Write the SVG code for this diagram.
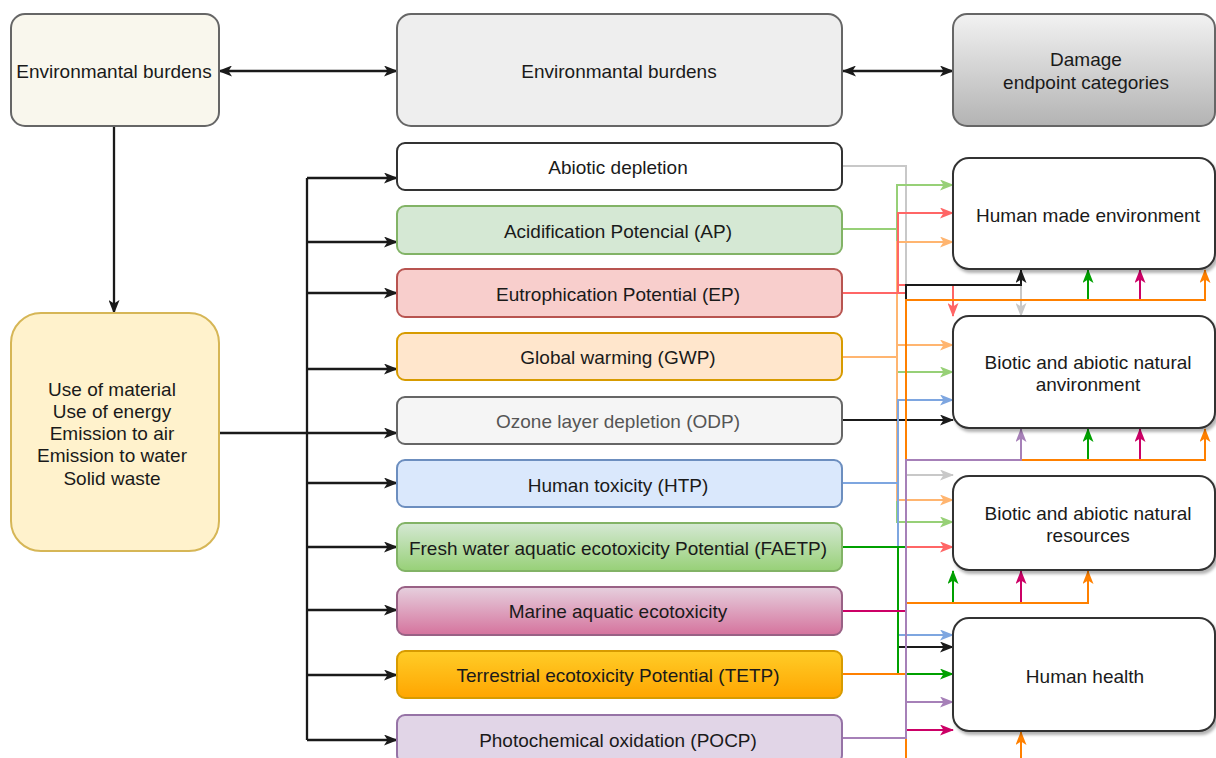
<svg xmlns="http://www.w3.org/2000/svg" width="1216" height="758" viewBox="0 0 1216 758">
<style>
text{font-family:"Liberation Sans",Arial,sans-serif;font-size:19px;fill:#1a1a1a;text-anchor:middle;dominant-baseline:central}
.c{fill:none;stroke-width:2}
.k{stroke:#1a1a1a;stroke-width:2.3}
.end{fill:#fff;stroke:#333;stroke-width:2}
</style>
<defs>
<linearGradient id="gF" x1="0" y1="0" x2="0" y2="1"><stop offset="0" stop-color="#d5e8d4"/><stop offset="1" stop-color="#97d077"/></linearGradient>
<linearGradient id="gM" x1="0" y1="0" x2="0" y2="1"><stop offset="0" stop-color="#e6d0de"/><stop offset="1" stop-color="#d5739d"/></linearGradient>
<linearGradient id="gT" x1="0" y1="0" x2="0" y2="1"><stop offset="0" stop-color="#ffcd28"/><stop offset="1" stop-color="#ffa500"/></linearGradient>
<linearGradient id="gD" x1="0" y1="0" x2="0" y2="1"><stop offset="0" stop-color="#f2f2f2"/><stop offset="1" stop-color="#b3b3b3"/></linearGradient>
<filter id="sh" x="-10%" y="-10%" width="130%" height="130%"><feDropShadow dx="2" dy="3" stdDeviation="1.5" flood-color="#000" flood-opacity="0.3"/></filter>
<marker id="m-blk" viewBox="0 0 14 11" refX="13" refY="5.5" markerWidth="14" markerHeight="11" markerUnits="userSpaceOnUse" orient="auto-start-reverse"><path d="M0,0 L14,5.5 L0,11 L3.5,5.5 z" fill="#1a1a1a"/></marker>
<marker id="m-gry" viewBox="0 0 14 11" refX="13" refY="5.5" markerWidth="14" markerHeight="11" markerUnits="userSpaceOnUse" orient="auto"><path d="M0,0 L14,5.5 L0,11 L3.5,5.5 z" fill="#c8c8c8"/></marker>
<marker id="m-lg" viewBox="0 0 14 11" refX="13" refY="5.5" markerWidth="14" markerHeight="11" markerUnits="userSpaceOnUse" orient="auto"><path d="M0,0 L14,5.5 L0,11 L3.5,5.5 z" fill="#97d077"/></marker>
<marker id="m-lo" viewBox="0 0 14 11" refX="13" refY="5.5" markerWidth="14" markerHeight="11" markerUnits="userSpaceOnUse" orient="auto"><path d="M0,0 L14,5.5 L0,11 L3.5,5.5 z" fill="#ffb570"/></marker>
<marker id="m-red" viewBox="0 0 14 11" refX="13" refY="5.5" markerWidth="14" markerHeight="11" markerUnits="userSpaceOnUse" orient="auto"><path d="M0,0 L14,5.5 L0,11 L3.5,5.5 z" fill="#ff6666"/></marker>
<marker id="m-blu" viewBox="0 0 14 11" refX="13" refY="5.5" markerWidth="14" markerHeight="11" markerUnits="userSpaceOnUse" orient="auto"><path d="M0,0 L14,5.5 L0,11 L3.5,5.5 z" fill="#7ea6e0"/></marker>
<marker id="m-grn" viewBox="0 0 14 11" refX="13" refY="5.5" markerWidth="14" markerHeight="11" markerUnits="userSpaceOnUse" orient="auto"><path d="M0,0 L14,5.5 L0,11 L3.5,5.5 z" fill="#00a000"/></marker>
<marker id="m-mag" viewBox="0 0 14 11" refX="13" refY="5.5" markerWidth="14" markerHeight="11" markerUnits="userSpaceOnUse" orient="auto"><path d="M0,0 L14,5.5 L0,11 L3.5,5.5 z" fill="#cc0066"/></marker>
<marker id="m-org" viewBox="0 0 14 11" refX="13" refY="5.5" markerWidth="14" markerHeight="11" markerUnits="userSpaceOnUse" orient="auto"><path d="M0,0 L14,5.5 L0,11 L3.5,5.5 z" fill="#ff8000"/></marker>
<marker id="m-pur" viewBox="0 0 14 11" refX="13" refY="5.5" markerWidth="14" markerHeight="11" markerUnits="userSpaceOnUse" orient="auto"><path d="M0,0 L14,5.5 L0,11 L3.5,5.5 z" fill="#a680b8"/></marker>
</defs>
<rect width="1216" height="758" fill="#fff"/>

<g id="connectors">
<path class="c k" d="M219,71 H397" marker-start="url(#m-blk)" marker-end="url(#m-blk)"/>
<path class="c k" d="M843,71 H953" marker-start="url(#m-blk)" marker-end="url(#m-blk)"/>
<path class="c k" d="M114,127 V313" marker-end="url(#m-blk)"/>
<path class="c k" d="M219,433 H307 M307,178 V740"/>
<path class="c k" d="M307,178 H397" marker-end="url(#m-blk)"/>
<path class="c k" d="M307,242 H397" marker-end="url(#m-blk)"/>
<path class="c k" d="M307,293 H397" marker-end="url(#m-blk)"/>
<path class="c k" d="M307,369 H397" marker-end="url(#m-blk)"/>
<path class="c k" d="M307,433 H397" marker-end="url(#m-blk)"/>
<path class="c k" d="M307,483 H397" marker-end="url(#m-blk)"/>
<path class="c k" d="M307,547 H397" marker-end="url(#m-blk)"/>
<path class="c k" d="M307,610 H397" marker-end="url(#m-blk)"/>
<path class="c k" d="M307,675 H397" marker-end="url(#m-blk)"/>
<path class="c k" d="M307,740 H397" marker-end="url(#m-blk)"/>

<g stroke="#c8c8c8">
<path class="c" d="M842,166 H906 V475 H953" marker-end="url(#m-gry)"/>
<path class="c" d="M906,285 H1021 V316" marker-end="url(#m-gry)"/>
</g>
<g stroke="#97d077">
<path class="c" d="M842,229 H897 V185 H953" marker-end="url(#m-lg)"/>
<path class="c" d="M897,229 V372 H953" marker-end="url(#m-lg)"/>
<path class="c" d="M897,372 V522 H953" marker-end="url(#m-lg)"/>
</g>
<g stroke="#ffb570">
<path class="c" d="M842,357 H897 V242 H953" marker-end="url(#m-lo)"/>
<path class="c" d="M897,357 V345 H953" marker-end="url(#m-lo)"/>
<path class="c" d="M897,357 V500 H953" marker-end="url(#m-lo)"/>
</g>
<g stroke="#ff6666">
<path class="c" d="M842,293 H898 V213 H953" marker-end="url(#m-red)"/>
<path class="c" d="M898,293 V285 H953 V316" marker-end="url(#m-red)"/>
<path class="c" d="M898,293 H906 V547 H953" marker-end="url(#m-red)"/>
</g>
<g stroke="#1a1a1a">
<path class="c" d="M842,420 H953" marker-end="url(#m-blk)"/>
<path class="c" d="M906,420 V285 H1021 V270" marker-end="url(#m-blk)"/>
<path class="c" d="M898,420 V647 H953" marker-end="url(#m-blk)"/>
</g>
<g stroke="#7ea6e0">
<path class="c" d="M842,483 H898 V400 H953" marker-end="url(#m-blu)"/>
<path class="c" d="M898,483 V635 H953" marker-end="url(#m-blu)"/>
</g>
<g stroke="#00a000">
<path class="c" d="M842,547 H898 V674 H953" marker-end="url(#m-grn)"/>
<path class="c" d="M898,547 H906 V603 H953 V571" marker-end="url(#m-grn)"/>
<path class="c" d="M906,547 V460 H1088 V429" marker-end="url(#m-grn)"/>
<path class="c" d="M906,460 V300 H1088 V270" marker-end="url(#m-grn)"/>
</g>
<g stroke="#cc0066">
<path class="c" d="M842,611 H906 V730 H953" marker-end="url(#m-mag)"/>
<path class="c" d="M906,611 V603 H1021 V571" marker-end="url(#m-mag)"/>
<path class="c" d="M906,603 V460 H1140 V429" marker-end="url(#m-mag)"/>
<path class="c" d="M906,460 V300 H1140 V270" marker-end="url(#m-mag)"/>
</g>
<g stroke="#ff8000">
<path class="c" d="M842,674 H906 V300 H1205 V270" marker-end="url(#m-org)"/>
<path class="c" d="M906,460 H1205 V429" marker-end="url(#m-org)"/>
<path class="c" d="M906,603 H1088 V571" marker-end="url(#m-org)"/>
<path class="c" d="M906,674 V770 H1021 V732" marker-end="url(#m-org)"/>
</g>
<g stroke="#a680b8">
<path class="c" d="M842,738 H906 V702 H953" marker-end="url(#m-pur)"/>
<path class="c" d="M906,702 V460 H1021 V429" marker-end="url(#m-pur)"/>
</g>
</g>

<g id="n-burdens-left"><rect x="11" y="14" width="208" height="112" rx="14" fill="#f9f7ed" stroke="#666" stroke-width="2"/><text x="114" y="71">Environmantal burdens</text></g>
<g id="n-burdens-mid"><rect x="397" y="14" width="445" height="112" rx="14" fill="#eeeeee" stroke="#666" stroke-width="2"/><text x="619" y="71">Environmantal burdens</text></g>
<g id="n-damage"><rect x="953" y="14" width="262" height="112" rx="14" fill="url(#gD)" stroke="#666" stroke-width="2"/><text x="1086" y="59">Damage</text><text x="1086" y="82">endpoint categories</text></g>
<g id="n-inputs"><rect x="11" y="313" width="208" height="238" rx="30" fill="#fff2cc" stroke="#d6b656" stroke-width="2"/>
<text x="112" y="389">Use of material</text><text x="112" y="411">Use of energy</text><text x="112" y="433">Emission to air</text><text x="112" y="455">Emission to water</text><text x="112" y="478">Solid waste</text></g>

<g id="n-abiotic"><rect x="397" y="143" width="445" height="47" rx="8" fill="#fff" stroke="#333" stroke-width="2"/><text x="618" y="167">Abiotic depletion</text></g>
<g id="n-ap"><rect x="397" y="206" width="445" height="48" rx="8" fill="#d5e8d4" stroke="#82b366" stroke-width="2"/><text x="618" y="231">Acidification Potencial (AP)</text></g>
<g id="n-ep"><rect x="397" y="269" width="445" height="48" rx="8" fill="#f8cecc" stroke="#b85450" stroke-width="2"/><text x="618" y="294">Eutrophication Potential (EP)</text></g>
<g id="n-gwp"><rect x="397" y="333" width="445" height="47" rx="8" fill="#ffe6cc" stroke="#d79b00" stroke-width="2"/><text x="618" y="357">Global warming (GWP)</text></g>
<g id="n-odp"><rect x="397" y="397" width="445" height="47" rx="8" fill="#f5f5f5" stroke="#666" stroke-width="2"/><text x="618" y="421" style="fill:#555">Ozone layer depletion (ODP)</text></g>
<g id="n-htp"><rect x="397" y="460" width="445" height="47" rx="8" fill="#dae8fc" stroke="#6c8ebf" stroke-width="2"/><text x="618" y="485">Human toxicity (HTP)</text></g>
<g id="n-faetp"><rect x="397" y="523" width="445" height="48" rx="8" fill="url(#gF)" stroke="#82b366" stroke-width="2"/><text x="618" y="548">Fresh water aquatic ecotoxicity Potential (FAETP)</text></g>
<g id="n-marine"><rect x="397" y="587" width="445" height="48" rx="8" fill="url(#gM)" stroke="#996185" stroke-width="2"/><text x="618" y="611">Marine aquatic ecotoxicity</text></g>
<g id="n-tetp"><rect x="397" y="651" width="445" height="47" rx="8" fill="url(#gT)" stroke="#d79b00" stroke-width="2"/><text x="618" y="675">Terrestrial ecotoxicity Potential (TETP)</text></g>
<g id="n-pocp"><rect x="397" y="715" width="445" height="48" rx="8" fill="#e1d5e7" stroke="#9673a6" stroke-width="2"/><text x="618" y="740">Photochemical oxidation (POCP)</text></g>

<g id="n-hme"><rect class="end" x="953" y="158" width="262" height="111" rx="16" filter="url(#sh)"/><text x="1088" y="215">Human made environment</text></g>
<g id="n-bne"><rect class="end" x="953" y="316" width="262" height="112" rx="16" filter="url(#sh)"/><text x="1088" y="362">Biotic and abiotic natural</text><text x="1088" y="384">anvironment</text></g>
<g id="n-bnr"><rect class="end" x="953" y="476" width="262" height="94" rx="16" filter="url(#sh)"/><text x="1088" y="513">Biotic and abiotic natural</text><text x="1088" y="535">resources</text></g>
<g id="n-hh"><rect class="end" x="953" y="618" width="262" height="113" rx="16" filter="url(#sh)"/><text x="1085" y="676">Human health</text></g>
</svg>
